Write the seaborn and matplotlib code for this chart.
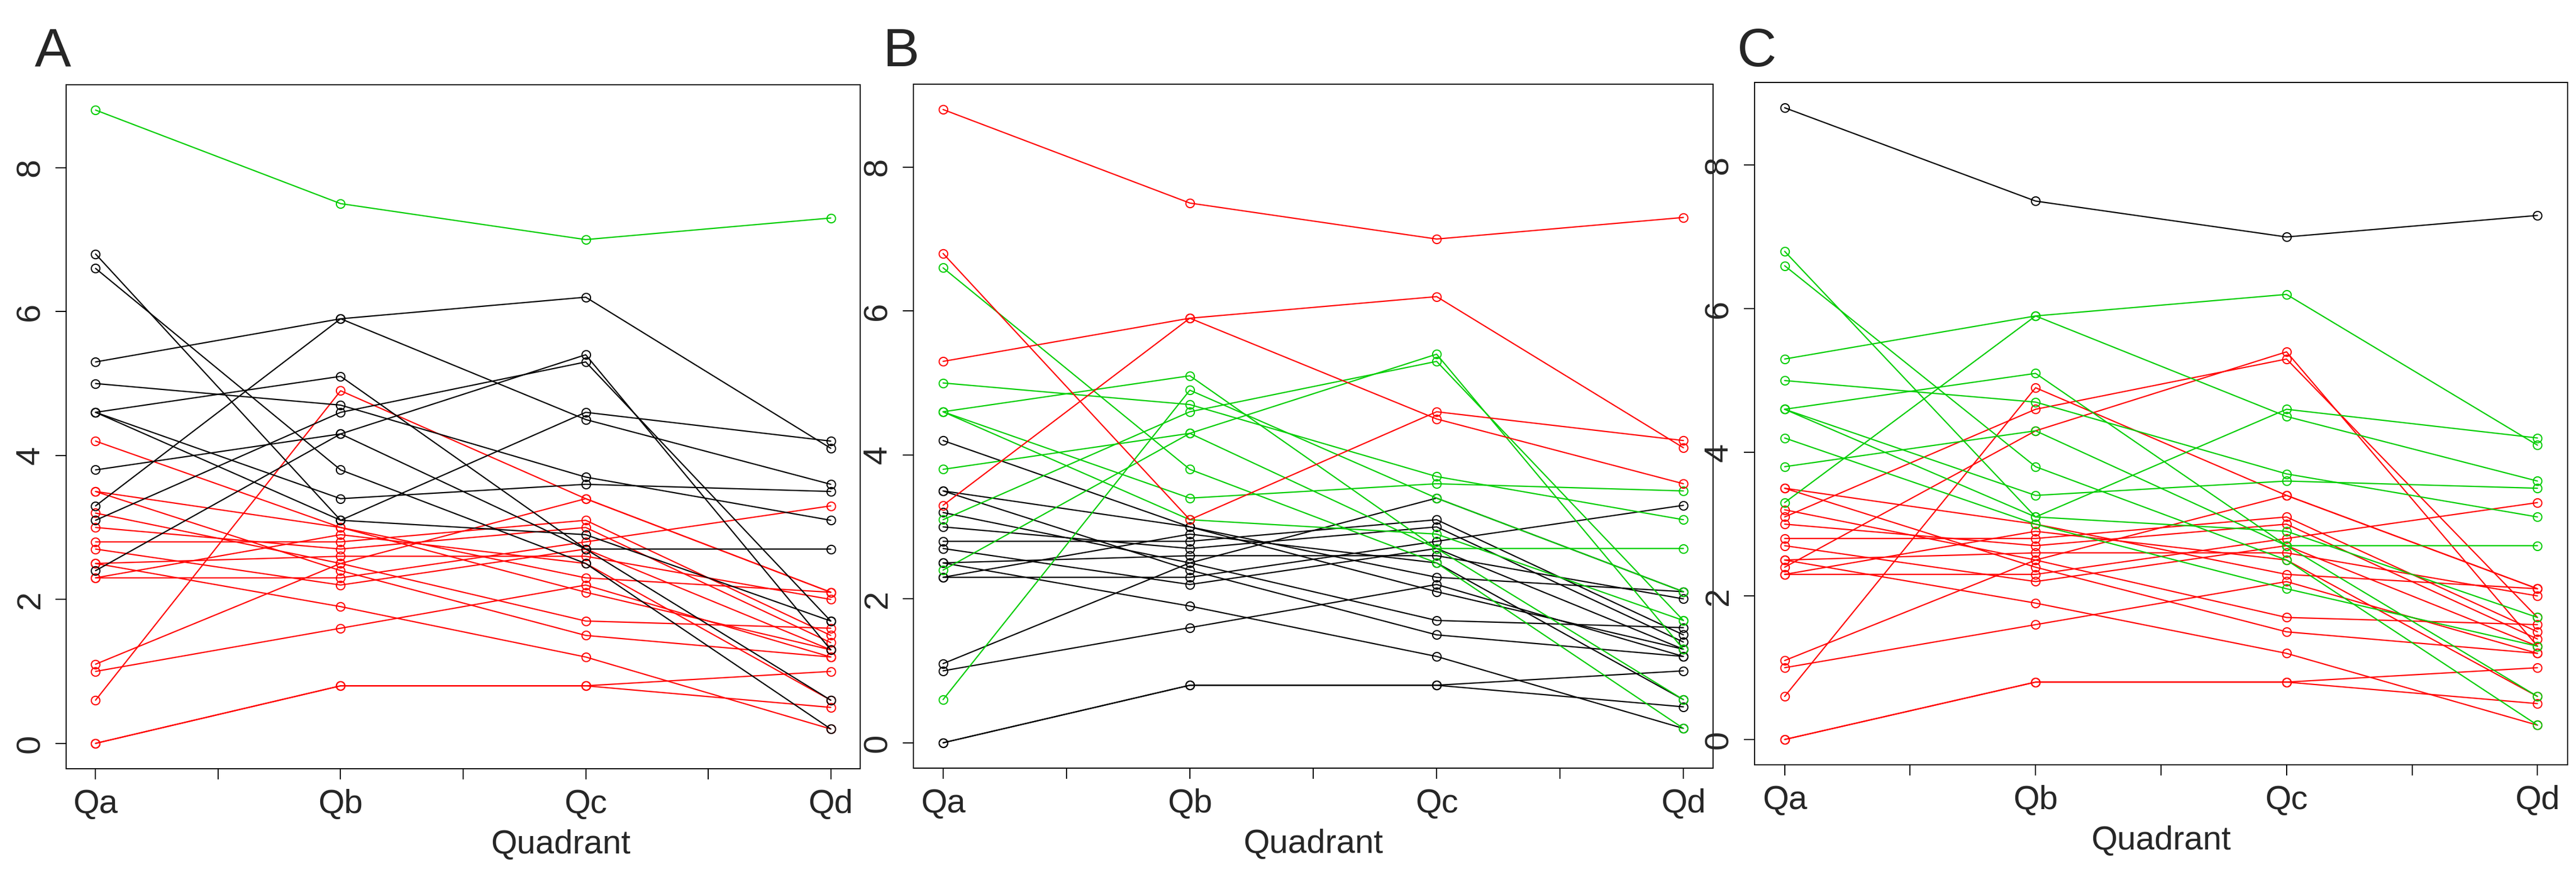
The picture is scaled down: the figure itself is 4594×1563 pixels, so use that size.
import numpy as np
import pandas as pd
import matplotlib
matplotlib.use("Agg")
import matplotlib.pyplot as plt
import seaborn as sns

# ---------------- data ----------------
quadrants = ["Qa", "Qb", "Qc", "Qd"]
subjects = [f"S{i:02d}" for i in range(1, 29)]

qa = [8.8, 6.8, 5.3, 3.3, 6.6, 5.0, 4.6, 4.6, 4.6, 3.8, 3.1, 2.4,
      4.2, 3.5, 3.5, 3.2, 3.0, 2.8, 2.7, 2.5, 2.5, 2.3, 2.3, 1.1, 1.0, 0.6, 0.0, 0.0]
qb = [7.5, 3.1, 5.9, 5.9, 3.8, 4.7, 5.1, 3.4, 3.1, 4.3, 4.6, 4.3,
      3.0, 3.0, 2.4, 2.5, 2.7, 2.8, 2.2, 2.6, 1.9, 2.3, 2.9, 2.5, 1.6, 4.9, 0.8, 0.8]
qc = [7.0, 4.6, 6.2, 4.5, 2.5, 3.7, 2.7, 3.6, 2.9, 2.7, 5.3, 5.4,
      2.1, 2.3, 1.5, 1.7, 3.0, 3.1, 2.7, 2.6, 1.2, 2.8, 2.5, 3.4, 2.2, 3.4, 0.8, 0.8]
qd = [7.3, 4.2, 4.1, 3.6, 0.2, 3.1, 0.6, 3.5, 1.7, 2.7, 1.7, 1.3,
      1.3, 2.1, 1.2, 1.6, 1.4, 1.5, 1.3, 2.0, 0.2, 3.3, 0.6, 2.1, 1.2, 2.1, 1.0, 0.5]

# cluster colour of every subject in the three panels
group_A = ["green"] + ["black"] * 11 + ["red"] * 16
group_B = ["red"] * 4 + ["green"] * 8 + ["black"] * 13 + ["green"] + ["black"] * 2
group_C = ["black"] + ["green"] * 9 + ["red"] * 2 + ["green"] + ["red"] * 15

panel_letters = ["A", "B", "C"]
draw_orders = [["red", "black", "green"],
               ["black", "green", "red"],
               ["red", "green", "black"]]

colour_values = {"red": "#FF0000", "green": "#00CD00", "black": "#000000"}

# ---------------- long table ----------------
rows = []
for i, s in enumerate(subjects):
    for j, vals in enumerate([qa, qb, qc, qd]):
        rows.append({"subject": s, "pos": j + 1, "value": vals[i],
                     "gA": group_A[i], "gB": group_B[i], "gC": group_C[i]})
df = pd.DataFrame(rows)

# ---------------- figure ----------------
sns.set_style("white")
plt.rcParams["font.family"] = ["Liberation Sans", "DejaVu Sans"]

W, H = 4594, 1563
fig = plt.figure(figsize=(W / 100, H / 100), dpi=100)

boxes = [(118, 1534, 151, 1370), (1629, 3055, 150, 1369), (3129, 4579, 147, 1363)]
letter_x = [62, 1575, 3098]
xlabel_x = [0.623, 0.5, 0.5]
gcols = ["gA", "gB", "gC"]

for k in range(3):
    l, r, t, b = boxes[k]
    ax = fig.add_axes([l / W, 1 - b / H, (r - l) / W, (b - t) / H])
    gcol = gcols[k]
    for g in draw_orders[k]:
        sub = df[df[gcol] == g]
        if sub.empty:
            continue
        sns.lineplot(data=sub, x="pos", y="value", units="subject", estimator=None,
                     sort=False, color=colour_values[g], marker="o", markersize=11,
                     markerfacecolor="none", markeredgecolor=colour_values[g],
                     markeredgewidth=1.5, linewidth=1.6, legend=False, ax=ax)
    ax.set_xlim(0.88, 4.12)
    ax.set_ylim(-0.352, 9.152)
    ax.set_xticks([1, 2, 3, 4])
    ax.set_xticklabels(quadrants, fontsize=43)
    ax.set_xticks([1.5, 2.5, 3.5], minor=True)
    ax.set_yticks([0, 2, 4, 6, 8])
    ax.set_yticklabels(["0", "2", "4", "6", "8"], fontsize=43, rotation=90, va="center")
    ax.tick_params(axis="both", which="both", direction="out", length=14, width=1.4,
                   color="black", bottom=True, left=True)
    ax.tick_params(axis="x", which="major", pad=12)
    ax.tick_params(axis="y", which="major", pad=12)
    ax.set_ylabel("")
    ax.set_xlabel("Quadrant", fontsize=43, va="top")
    ax.xaxis.set_label_coords(xlabel_x[k], -0.089)
    for sp in ax.spines.values():
        sp.set_visible(True)
        sp.set_color("black")
        sp.set_linewidth(1.4)
    ax.grid(False)
    fig.text(letter_x[k] / W, 1 - 118 / H, panel_letters[k], fontsize=70,
             ha="left", va="baseline")

fig.savefig("out.png", dpi=100, facecolor="white")
